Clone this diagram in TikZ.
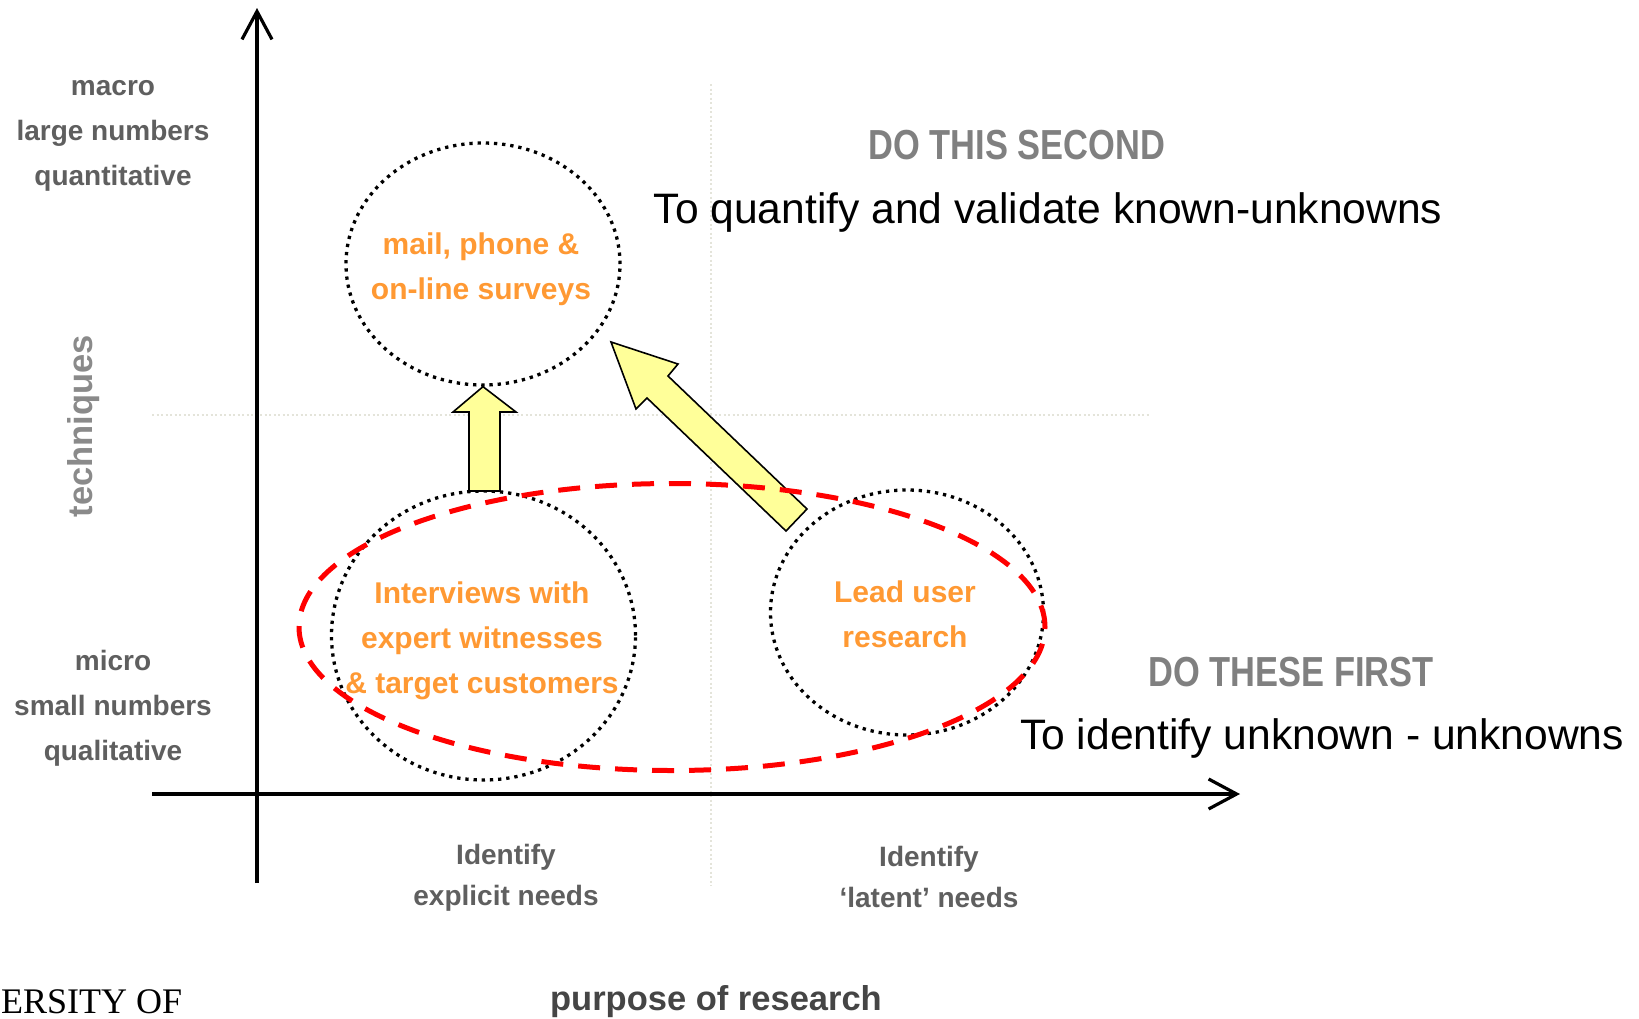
\documentclass[tikz,border=0pt]{standalone}
\usepackage{fontspec}
\setmainfont{Liberation Sans}
\newfontfamily\narrowfont[FakeStretch=0.82]{Liberation Sans}
\newfontfamily\logofont{Liberation Serif}
\usetikzlibrary{arrows.meta,shapes.geometric}

\definecolor{labelgray}{HTML}{5F5F5F}
\definecolor{softgray}{HTML}{8A8A8A}
\definecolor{headgray}{HTML}{808080}
\definecolor{darkgray}{HTML}{454545}
\definecolor{techorange}{HTML}{FF9933}
\definecolor{paleyellow}{HTML}{FFFF99}
\definecolor{guide}{HTML}{E4E4DA}

\tikzset{
  axis/.style={line width=3.2pt, -{Straight Barb[length=28pt,width=30pt,line width=3.2pt]}},
  guideline/.style={draw=guide, line width=1.3pt, dash pattern=on 2pt off 2.5pt},
  method/.style={ellipse, draw=black, line width=3.3pt, dash pattern=on 3.3pt off 4.9pt, inner sep=0pt},
  focus/.style={ellipse, draw=red, line width=5pt, dash pattern=on 22pt off 15pt, inner sep=0pt},
  blockarrow/.style={fill=paleyellow, draw=black, line width=1.6pt, line join=miter},
  scalelabel/.style={text=labelgray, font=\bfseries\fontsize{28}{45}\selectfont, align=center, inner sep=0pt},
  needlabel/.style={text=labelgray, font=\bfseries\fontsize{28}{41}\selectfont, align=center, inner sep=0pt},
  methodtext/.style={text=techorange, font=\bfseries\fontsize{30}{45}\selectfont, align=center, inner sep=0pt},
  phase/.style={text=headgray, font=\narrowfont\bfseries\fontsize{42}{48}\selectfont, inner sep=0pt},
  goal/.style={text=black, font=\fontsize{42.6}{48}\selectfont, inner sep=0pt},
}

\begin{document}
\begin{tikzpicture}[x=1pt, y=-1pt]
  \useasboundingbox (0,0) rectangle (1639,1018);
  \clip (0,0) rectangle (1639,1018);
  \fill[white] (0,0) rectangle (1639,1018);

  % quadrant guides
  \draw[guideline] (711,84) -- (711,886);
  \draw[guideline] (152,415) -- (1150,415);

  % axes
  \coordinate (yfoot) at (257,883);
  \coordinate (ytip) at (257,8);
  \coordinate (xfoot) at (152,794);
  \coordinate (xtip) at (1240,794);
  \draw[axis] (yfoot) -- (ytip);
  \draw[axis] (xfoot) -- (xtip);

  % research methods
  \node[method, minimum width=274pt, minimum height=242pt] (survey) at (483,264) {};
  \node[method, minimum width=304pt, minimum height=289pt] (interview) at (483.5,635.5) {};
  \node[method, minimum width=273pt, minimum height=245pt] (leaduser) at (907,612.5) {};

  % moves from the first phase to the second
  \draw[blockarrow] (469,491) -- (500,491) -- (500,412) -- (516,412) -- (survey.south)
        -- (453,412) -- (469,412) -- cycle;
  \draw[blockarrow] (786,531) -- (807,509) -- (668,376) -- (678,364) -- (611,342)
        -- (636,409) -- (647,398) -- cycle;

  % method texts
  \node[methodtext] (surveytext) at (481,269) {mail, phone \&\\on-line surveys};
  \node[methodtext] (interviewtext) at (482,641) {Interviews with\\expert witnesses\\\& target customers};
  \node[methodtext] (leadtext) at (905,614) {Lead user\\research};

  % first phase grouping
  \node[focus, minimum width=746pt, minimum height=287pt] (firstphase) at (672,627) {};

  % vertical scale
  \node[scalelabel] (macro) at (113,136) {macro\\large numbers\\quantitative};
  \node[scalelabel] (micro) at (113,708) {micro\\small numbers\\qualitative};
  \node[text=softgray, font=\bfseries\fontsize{34.5}{40}\selectfont, rotate=90, inner sep=0pt]
        (techniques) at (84,426) {techniques};

  % horizontal scale
  \node[needlabel] (explicit) at (506,878) {Identify\\explicit needs};
  \node[needlabel] (latent) at (929,877) {Identify\\‘latent’ needs};
  \node[text=darkgray, font=\bfseries\fontsize{34.5}{40}\selectfont, anchor=base, inner sep=0pt]
        (purpose) at (716,1010) {purpose of research};

  % phase notes
  \node[phase] (second) at (1017,145) {DO THIS SECOND};
  \node[goal] (secondgoal) at (1048,212) {To quantify and validate known-unknowns};
  \node[phase] (first) at (1291,672) {DO THESE FIRST};
  \node[goal] (firstgoal) at (1322,738) {To identify unknown - unknowns};

  % logo fragment
  \node[font=\logofont\fontsize{36}{40}\selectfont, anchor=base west, inner sep=0pt]
        (logo) at (1,1013) {ERSITY OF};
\end{tikzpicture}
\end{document}
